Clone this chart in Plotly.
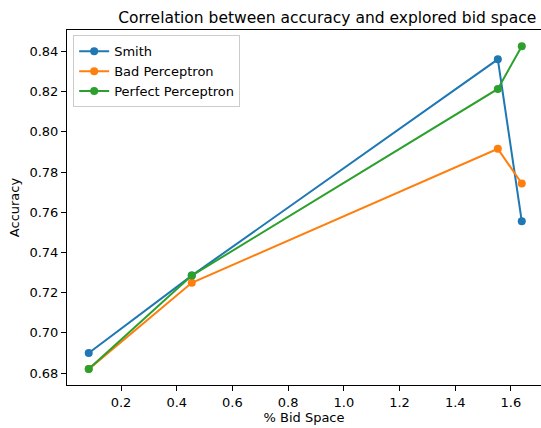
import plotly.graph_objects as go

bid_space = [0.084, 0.454, 1.553, 1.639]
smith = [0.690, 0.7285, 0.836, 0.7555]
bad_perceptron = [0.682, 0.7249, 0.7915, 0.7743]
perfect_perceptron = [0.682, 0.7285, 0.8213, 0.8425]

series = [
    ("Smith", smith, "#1f77b4"),
    ("Bad Perceptron", bad_perceptron, "#ff7f0e"),
    ("Perfect Perceptron", perfect_perceptron, "#2ca02c"),
]

fig = go.Figure()
for name, ys, color in series:
    fig.add_trace(go.Scatter(
        x=bid_space, y=ys, name=name, mode="lines+markers",
        line=dict(color=color, width=2),
        marker=dict(color=color, size=8),
    ))

font = "DejaVu Sans"
fig.update_layout(
    width=541, height=428,
    margin=dict(l=67, r=0, t=30, b=43),
    paper_bgcolor="white", plot_bgcolor="white",
    font=dict(family=font, size=13, color="black"),
    title=dict(text="Correlation between accuracy and explored bid space",
               x=0.549, xref="paper", xanchor="center", y=0.958, yanchor="middle",
               font=dict(size=15.5)),
    showlegend=True,
    legend=dict(x=0.013, y=0.985, xanchor="left", yanchor="top",
                bgcolor="rgba(255,255,255,0.8)", bordercolor="#cccccc", borderwidth=1,
                font=dict(size=13), itemwidth=30, tracegroupgap=0),
)
fig.update_xaxes(
    range=[0.006, 1.708], tickvals=[0.2, 0.4, 0.6, 0.8, 1.0, 1.2, 1.4, 1.6],
    ticktext=["0.2", "0.4", "0.6", "0.8", "1.0", "1.2", "1.4", "1.6"],
    showgrid=False, zeroline=False, showline=True, linecolor="black", linewidth=1,
    mirror=True, ticks="outside", ticklen=5, tickcolor="black", automargin=False,
    tickfont=dict(size=13),
    title=dict(text="% Bid Space", standoff=4, font=dict(size=13)),
)
fig.update_yaxes(
    range=[0.6741, 0.8506], tickvals=[0.68, 0.70, 0.72, 0.74, 0.76, 0.78, 0.80, 0.82, 0.84],
    ticktext=["0.68", "0.70", "0.72", "0.74", "0.76", "0.78", "0.80", "0.82", "0.84"],
    showgrid=False, zeroline=False, showline=True, linecolor="black", linewidth=1,
    mirror=False, ticks="outside", ticklen=5, tickcolor="black", automargin=False,
    tickfont=dict(size=13),
    title=dict(text="Accuracy", standoff=6, font=dict(size=13)),
)
fig.write_html("out.html", config={"displayModeBar": False},
               post_script="document.body.style.margin='0';document.body.style.overflow='hidden';")
